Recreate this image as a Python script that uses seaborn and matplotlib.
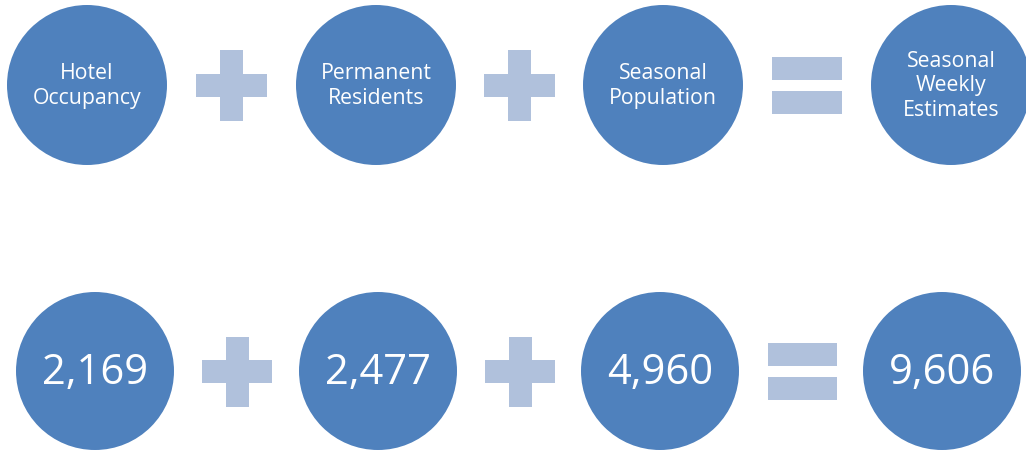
import matplotlib
matplotlib.use("Agg")
import matplotlib.pyplot as plt
from matplotlib.patches import Rectangle
import seaborn as sns
import pandas as pd

# ---- data ----
labels = ["Hotel\nOccupancy", "Permanent\nResidents", "Seasonal\nPopulation", "Seasonal\nWeekly\nEstimates"]
values = [2169, 2477, 4960, 9606]
operators = ["+", "+", "="]

# ---- layout (pixels) ----
W, H = 1026, 452
top_x = [87, 376, 663, 951]
top_y = 86
top_r = 80
bot_x = [95, 378, 660, 942]
bot_y = 372
bot_r = 79
top_op_x = [231.5, 519.5, 807]
bot_op_x = [237, 520, 802.5]

circle_color = "#4F81BD"
op_color = "#B0C1DC"

sns.set_theme(style="white")
plt.rcParams['font.family'] = ['Open Sans', 'DejaVu Sans']

fig = plt.figure(figsize=(W / 100, H / 100), dpi=100)
ax = fig.add_axes([0, 0, 1, 1])
ax.set_xlim(0, W)
ax.set_ylim(H, 0)
ax.set_axis_off()

df = pd.DataFrame({
    "label": labels + [f"{v:,}" for v in values],
    "x": top_x + bot_x,
    "y": [top_y] * 4 + [bot_y] * 4,
    "r": [top_r] * 4 + [bot_r] * 4,
})

# circle size in points^2 (diameter in px -> points at 100 dpi)
df["s"] = (df["r"] * 2 * 72 / 100) ** 2
sns.scatterplot(data=df, x="x", y="y", size="s", sizes=(df["s"].min(), df["s"].max()),
                color=circle_color, edgecolor="none", legend=False, ax=ax, zorder=2)

for i, row in df.iterrows():
    if i < 4:
        ax.text(row.x, row.y, row.label, color="white", fontsize=15.3,
                ha="center", va="center", linespacing=1.22, zorder=3)
    else:
        ax.text(row.x, row.y + 1, row.label, color="white", fontsize=30,
                ha="center", va="center", zorder=3)


def draw_plus(cx, cy, size=71, thick=23):
    ax.add_patch(Rectangle((cx - size / 2, cy - thick / 2), size, thick, color=op_color, lw=0))
    ax.add_patch(Rectangle((cx - thick / 2, cy - size / 2), thick, size, color=op_color, lw=0))


def draw_equals(cx, cy, size=70, thick=23, gap=11):
    ax.add_patch(Rectangle((cx - size / 2, cy - gap / 2 - thick), size, thick, color=op_color, lw=0))
    ax.add_patch(Rectangle((cx - size / 2, cy + gap / 2), size, thick, color=op_color, lw=0))


for op, x in zip(operators, top_op_x):
    if op == "+":
        draw_plus(x, 86.5)
    else:
        draw_equals(x, 86.5)
for op, x in zip(operators, bot_op_x):
    if op == "+":
        draw_plus(x, 372.5, size=70)
    else:
        draw_equals(x, 372, size=69)

fig.savefig("out.png", dpi=100)
